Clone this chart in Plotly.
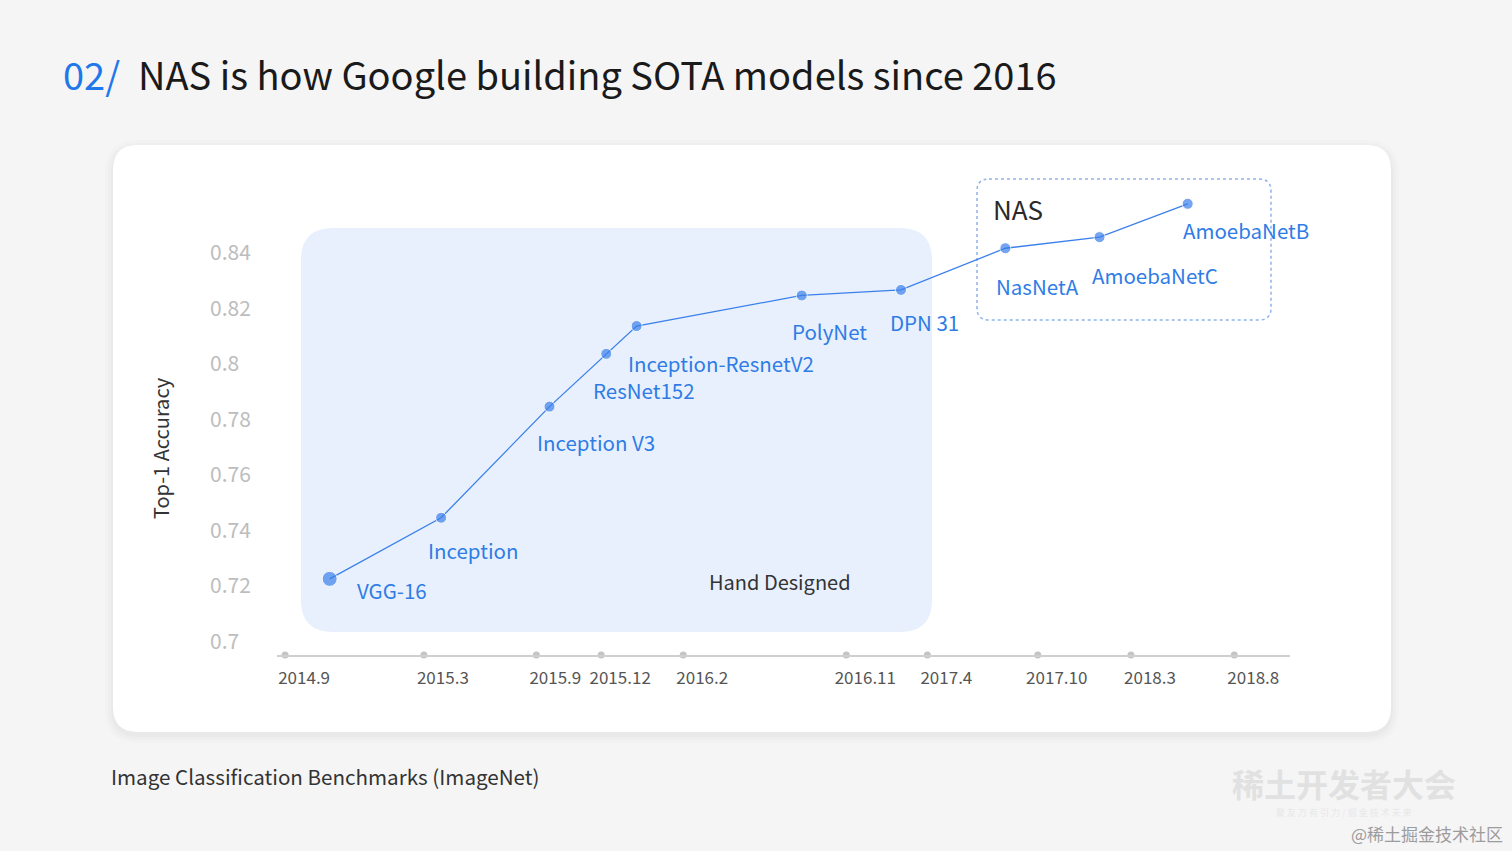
import plotly.graph_objects as go

# models on the ImageNet timeline (x = position on the timeline axis, 0-100)
models = ["VGG-16", "Inception", "Inception V3", "ResNet152", "Inception-ResnetV2",
          "PolyNet", "DPN 31", "NasNetA", "AmoebaNetC", "AmoebaNetB"]
model_pos = [5.2, 16.2, 26.9, 32.5, 35.5, 51.8, 61.6, 71.9, 81.2, 89.9]
top1_acc = [0.722, 0.744, 0.784, 0.803, 0.813, 0.824, 0.826, 0.841, 0.845, 0.857]

# timeline ticks
tick_pos = [0.8, 14.5, 25.6, 32.0, 40.1, 56.2, 64.2, 75.1, 84.3, 94.5]
tick_text = ["2014.9", "2015.3", "2015.9", "2015.12", "2016.2",
             "2016.11", "2017.4", "2017.10", "2018.3", "2018.8"]

y_ticks = [0.7, 0.72, 0.74, 0.76, 0.78, 0.8, 0.82, 0.84]

# label offsets (px) from each point: left edge / vertical centre
label_dx = [25, -15, -15, -15, -11, -12, -13, -11, -10, -7]
label_dy = [11, 32, 35, 36, 37, 36, 32, 38, 38, 26]

W, H = 1512, 851
FONT = "Noto Sans CJK SC"
BLUE = "#3b80ea"
LABEL_BLUE = "#2f7ce6"

y_lo = 0.7 - 15 / 2778
y_hi = 0.84 + 81 / 2778


def px(x, y):
    return x / W, 1 - y / H


def rounded_rect(x0, y0, x1, y1, r):
    # path in paper units built from pixel corners
    def p(x, y):
        a, b = px(x, y)
        return f"{a:.5f},{b:.5f}"
    return " ".join([
        f"M {p(x0 + r, y0)}", f"L {p(x1 - r, y0)}", f"Q {p(x1, y0)} {p(x1, y0 + r)}",
        f"L {p(x1, y1 - r)}", f"Q {p(x1, y1)} {p(x1 - r, y1)}", f"L {p(x0 + r, y1)}",
        f"Q {p(x0, y1)} {p(x0, y1 - r)}", f"L {p(x0, y0 + r)}", f"Q {p(x0, y0)} {p(x0 + r, y0)} Z",
    ])


fig = go.Figure()

# tick dots on the timeline
fig.add_trace(go.Scatter(x=tick_pos, y=[y_lo] * len(tick_pos), mode="markers",
                         marker=dict(size=7, color="#c4c4c4"),
                         cliponaxis=False, hoverinfo="skip", showlegend=False))

fig.add_trace(go.Scatter(x=model_pos, y=top1_acc, mode="lines+markers",
                         line=dict(color=BLUE, width=1.3),
                         marker=dict(size=[15] + [11] * (len(models) - 1), color=BLUE),
                         cliponaxis=False, showlegend=False, text=models))

shapes = []
# card shadow + card
for grow, op in [(8, 0.012), (5, 0.015), (2, 0.02)]:
    shapes.append(dict(type="path", xref="paper", yref="paper", layer="below",
                       path=rounded_rect(113 - grow, 145 - grow + 3, 1391 + grow, 732 + grow + 3, 25 + grow),
                       fillcolor=f"rgba(0,0,0,{op})", line=dict(width=0)))
shapes.append(dict(type="path", xref="paper", yref="paper", layer="below",
                   path=rounded_rect(113, 145, 1391, 732, 25),
                   fillcolor="white", line=dict(width=0)))
# hand designed region
shapes.append(dict(type="path", xref="paper", yref="paper", layer="below",
                   path=rounded_rect(301, 228, 932, 632, 32),
                   fillcolor="#e8f0fd", line=dict(width=0)))
# NAS box
shapes.append(dict(type="path", xref="paper", yref="paper", layer="below",
                   path=rounded_rect(977, 179, 1271, 320, 12),
                   fillcolor="rgba(0,0,0,0)", line=dict(color="#8fb3ea", width=1.5, dash="dot")))

annotations = []
for name, xv, yv, dx, dy in zip(models, model_pos, top1_acc, label_dx, label_dy):
    annotations.append(dict(x=xv, y=yv, xref="x", yref="y", text=name, showarrow=False,
                            xanchor="left", yanchor="middle", xshift=dx, yshift=-dy,
                            font=dict(family=FONT, size=20.5, color=LABEL_BLUE)))

for v in y_ticks:
    annotations.append(dict(x=208 / W, y=v, xref="paper", yref="y", text=f"{v:g}",
                            showarrow=False, xanchor="left", yanchor="middle",
                            font=dict(family=FONT, size=21, color="#bdbdbd")))


def txt(x, y, s, size, color, anchor="left", angle=0):
    a, b = px(x, y)
    annotations.append(dict(x=a, y=b, xref="paper", yref="paper", text=s, showarrow=False,
                            xanchor=anchor, yanchor="middle", textangle=angle,
                            font=dict(family=FONT, size=size, color=color)))


txt(160, 448, "Top-1 Accuracy", 20, "#333333", anchor="center", angle=-90)
txt(61, 74, "02/", 38, "#1f78ea")
txt(136, 74, "NAS is how Google building SOTA models since 2016", 38, "#1a1a1a")
txt(780, 581, "Hand Designed", 20, "#333333", anchor="center")
txt(991, 209, "NAS", 26, "#2a2a2a")
txt(109, 776, "Image Classification Benchmarks (ImageNet)", 20.6, "#333333")
txt(1344, 783, "<b>稀土开发者大会</b>", 32, "#e1e1e1", anchor="center")
txt(1344, 812, "聚 友 万 有 引 力 / 掘 金 技 术 未 来", 9, "#e8e8e8", anchor="center")
txt(1505, 833, "@稀土掘金技术社区", 17, "#9c9c9c", anchor="right")

fig.update_layout(
    width=W, height=H,
    margin=dict(l=0, r=0, t=0, b=0),
    paper_bgcolor="#f5f5f6", plot_bgcolor="rgba(0,0,0,0)",
    font=dict(family=FONT),
    shapes=shapes, annotations=annotations,
    xaxis=dict(domain=[277 / W, 1290 / W], range=[0, 100], showgrid=False, zeroline=False,
               showline=True, linecolor="#cfcfcf", linewidth=1.5,
               tickvals=tick_pos, ticktext=tick_text, ticks="",
               ticklabelshift=19, ticklabelstandoff=7,
               tickfont=dict(family=FONT, size=17, color="#555555")),
    yaxis=dict(domain=[(H - 655) / H, (H - 170) / H], range=[y_lo, y_hi],
               showgrid=False, zeroline=False, showline=False, showticklabels=False),
    hovermode=False,
)

fig.write_html("out.html", config={"displayModeBar": False},
               post_script="document.body.style.margin='0';document.body.style.overflow='hidden';")
